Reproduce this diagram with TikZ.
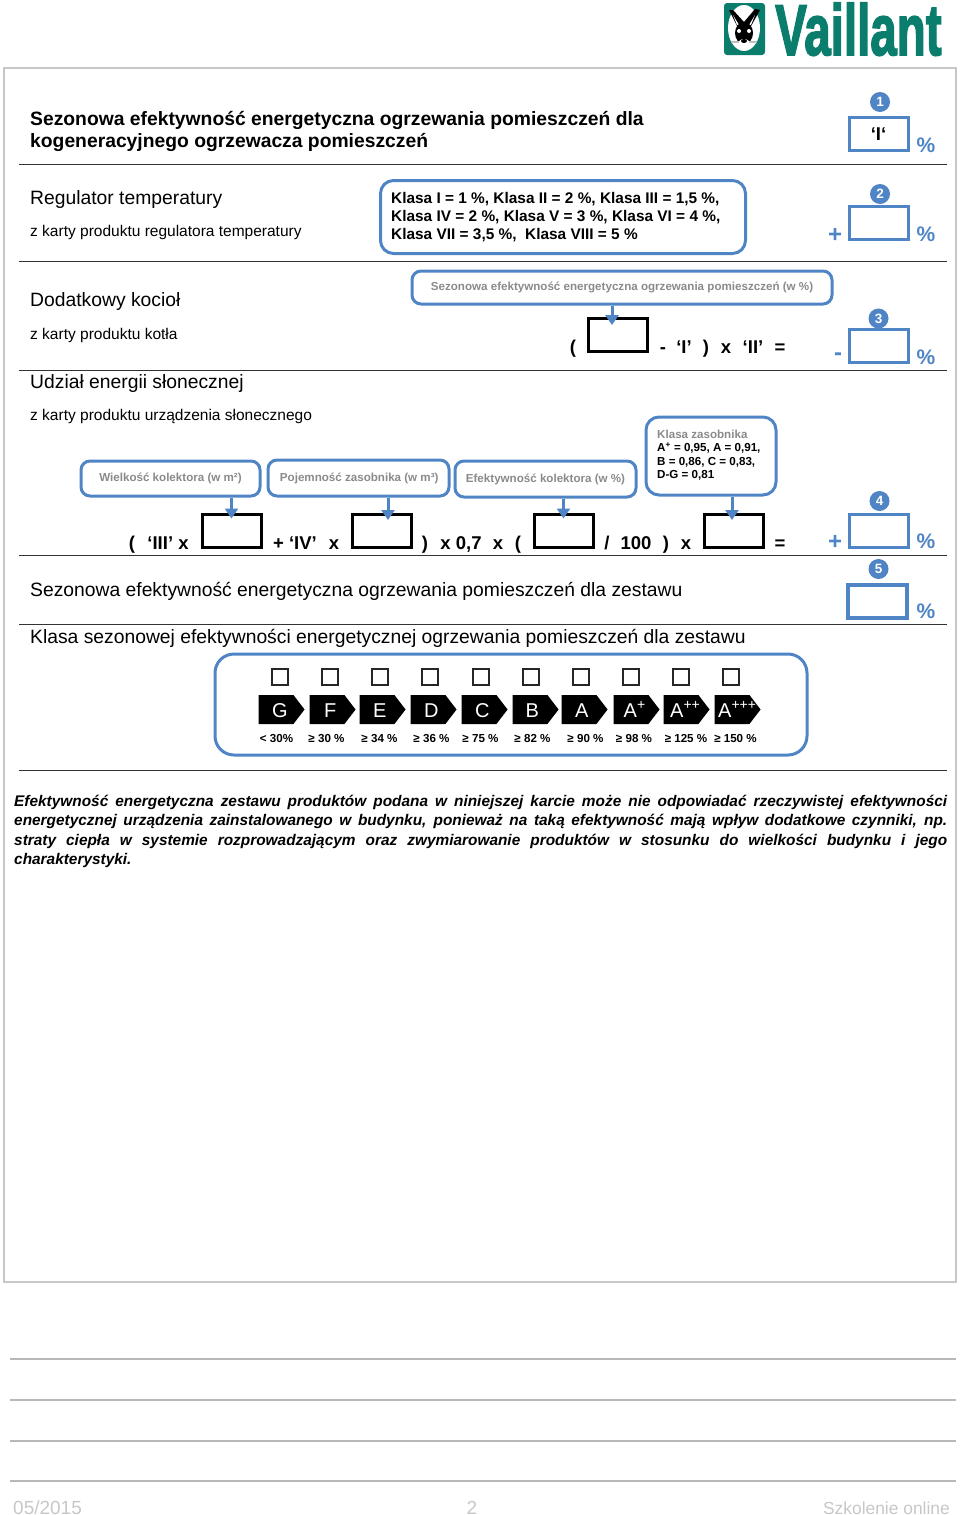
\documentclass[tikz,border=0pt]{standalone}
\usepackage{fontspec}
\setmainfont{Liberation Sans}
\newfontfamily\brandfont[FakeBold=2.5]{Liberation Sans Bold}
\usetikzlibrary{arrows.meta,shapes.symbols}
\definecolor{formblue}{HTML}{4F85C5}
\definecolor{hintgray}{HTML}{8A8A8A}
\definecolor{vaillantgreen}{HTML}{0A7D6C}
\newcommand{\fs}[1]{\fontsize{#1}{#1}\selectfont}
\tikzset{
  formtext/.style={anchor=base west,inner sep=0pt,font=\fs{19.3}},
  smalltext/.style={anchor=base west,inner sep=0pt,font=\fs{15.5}},
  optext/.style={anchor=base,inner sep=0pt,font=\fs{18.5}\bfseries},
  callout/.style={draw=formblue,line width=3pt,rounded corners=9pt,inner sep=0pt,align=center,text=hintgray,font=\fs{11.6}\bfseries},
  blackbox/.style={draw=black,line width=3pt,minimum width=59pt,minimum height=33pt,inner sep=0pt},
  bluebox/.style={draw=formblue,line width=3pt,minimum width=59pt,minimum height=33pt,inner sep=0pt},
  numdot/.style={circle,fill=formblue,text=white,minimum size=20pt,inner sep=0pt,font=\fs{13.5}\bfseries},
  percent/.style={inner sep=0pt,text=formblue,font=\fs{21}\bfseries},
  signmark/.style={inner sep=0pt,text=formblue,font=\fs{24}\bfseries},
  feed/.style={draw=formblue,line width=3pt,-{Triangle[width=13pt,length=10pt]}},
  rule/.style={draw=black!80,line width=1pt},
  greyrule/.style={draw=black!28,line width=2pt},
  classtag/.style={signal,signal to=east,signal pointer angle=105,fill=black,minimum width=46pt,minimum height=29pt,inner sep=0pt},
  gradetext/.style={anchor=base west,inner sep=0pt,text=white,font=\fs{20}},
  tick/.style={draw=black!85,line width=1.4pt,minimum size=16pt,inner sep=0pt},
  classlabel/.style={anchor=base,inner sep=0pt,font=\fs{11.6}\bfseries},
  footer/.style={anchor=base,inner sep=0pt,text=black!22,font=\fs{19}}
}
\begin{document}
\begin{tikzpicture}[x=1pt,y=-1pt]
    \useasboundingbox (0,0) rectangle (960,1515);

    % Logo
    \fill[vaillantgreen,rounded corners=3pt] (724,3) rectangle (765,55);
    \fill[white] (744,28) ellipse (16 and 23);
    \fill[black] (738,28) -- (729,10) -- (733,10) -- (744,22) -- (755,9) -- (760,10) -- (750,28) -- cycle;
    \fill[white] (733,15) -- (739,25) -- (737,25) -- cycle;
    \fill[white] (755,15) -- (749,25) -- (751,25) -- cycle;
    \fill[black] (744,33) ellipse (9 and 11);
    \fill[black!25] (731,41) rectangle (757,43);
    \fill[white] (744,44) ellipse (6 and 5);
    \fill[white] (739,31) circle (2) (749,31) circle (2);
    \fill[black] (744,41) ellipse (3 and 2);
    \node[anchor=base west,inner sep=0pt,text=vaillantgreen,font=\fs{72}\brandfont] (brand) at (775,55) {\scalebox{0.66}[1]{Vaillant}};

    % Frame
    \draw[draw=black!22,line width=1.6pt] (4,68) rectangle (956,1282);

    % Section rules
    \foreach \y in {164,261,370,555,624,770}
        \draw[rule] (19,\y) -- (947,\y);

    % Title row
    \node[formtext,align=left,font=\fs{19.3}\bfseries,anchor=north west] (title) at (30,111) {Sezonowa efektywność energetyczna ogrzewania pomieszczeń dla\\[2.7pt]kogeneracyjnego ogrzewacza pomieszczeń};

    % Left labels
    \node[formtext] (regulator) at (30,204) {Regulator temperatury};
    \node[smalltext] (regulatorsrc) at (30,236) {z karty produktu regulatora temperatury};
    \node[formtext] (boiler) at (30,306) {Dodatkowy kocioł};
    \node[smalltext] (boilersrc) at (30,339) {z karty produktu kotła};
    \node[formtext] (solar) at (30,388) {Udział energii słonecznej};
    \node[smalltext] (solarsrc) at (30,420) {z karty produktu urządzenia słonecznego};

    % Callouts
    \node[callout,minimum width=365pt,minimum height=73pt,rounded corners=13pt] (classes) at (563,217) {};
    \node[anchor=north west,inner sep=0pt,align=left,font=\fs{15.4}\bfseries] (classestext) at (391,192) {Klasa I = 1 \%, Klasa II = 2 \%, Klasa III = 1,5 \%,\\[2.6pt]Klasa IV = 2 \%, Klasa V = 3 \%, Klasa VI = 4 \%,\\[2.6pt]Klasa VII = 3,5 \%,\ \ Klasa VIII = 5 \%};
    \node[callout,minimum width=420pt,minimum height=33pt] (seasonal) at (622,287.5) {Sezonowa efektywność energetyczna ogrzewania pomieszczeń (w \%)};
    \node[callout,minimum width=179pt,minimum height=35pt] (collector) at (170.5,478.5) {Wielkość kolektora (w m²)};
    \node[callout,minimum width=181pt,minimum height=36pt] (storage) at (358.5,478) {\hspace{1.5pt}Pojemność zasobnika (w m³)};
    \node[callout,minimum width=181pt,minimum height=36pt] (efficiency) at (545.5,479) {Efektywność kolektora (w \%)};
    \node[callout,minimum width=130pt,minimum height=78pt,rounded corners=13pt] (storeclass) at (711,456) {};
    \node[anchor=north west,inner sep=0pt,align=left,font=\fs{11.6}\bfseries] (storeclasstext) at (657,430) {{\color{hintgray}Klasa zasobnika}\\[1.6pt]A\textsuperscript{+} = 0,95, A = 0,91,\\[1.6pt]B = 0,86, C = 0,83,\\[1.6pt]D-G = 0,81};

    % Entry boxes
    \node[blackbox] (seasonalbox) at (618,334.5) {};
    \node[blackbox] (collectorbox) at (231.5,530.5) {};
    \node[blackbox] (storagebox) at (381.5,530.5) {};
    \node[blackbox] (efficiencybox) at (563.5,530.5) {};
    \node[blackbox] (storeclassbox) at (733.5,530.5) {};

    % Feed arrows
    \draw[feed] (seasonal.south -| 612,0) -- (612,325);
    \draw[feed] (collector.south -| collectorbox.center) -- ([yshift=-6pt]collectorbox.north);
    \draw[feed] (storage.south -| 388,0) -- (388,520);
    \draw[feed] (efficiency.south -| efficiencybox.center) -- ([yshift=-6pt]efficiencybox.north);
    \draw[feed] (storeclass.south -| 732,0) -- (732,520);

    % First formula
    \node[optext] (openone) at (573,353) {(};
    \node[optext] (minusone) at (663,353) {-};
    \node[optext] (romani) at (684,353) {‘I’};
    \node[optext] (closeone) at (706,353) {)};
    \node[optext] (timesone) at (726,353) {x};
    \node[optext] (romanii) at (753,353) {‘II’};
    \node[optext] (equalsone) at (780,353) {=};

    % Second formula
    \node[optext] (opentwo) at (132,549) {(};
    \node[optext] (romaniii) at (168,549) {‘III’ x};
    \node[optext] (romaniv) at (295,549) {+ ‘IV’};
    \node[optext] (timesiv) at (334,549) {x};
    \node[optext] (closetwo) at (425,549) {)};
    \node[optext] (factor) at (461,549) {x 0,7};
    \node[optext] (timesthree) at (498,549) {x};
    \node[optext] (openthree) at (518,549) {(};
    \node[optext] (slash) at (607,549) {/};
    \node[optext] (hundred) at (636,549) {100};
    \node[optext] (closethree) at (666,549) {)};
    \node[optext] (timesfour) at (686,549) {x};
    \node[optext] (equalstwo) at (780,549) {=};

    % Result column
    \node[numdot] (dotone) at (880,102) {1};
    \node[numdot] (dottwo) at (880,194) {2};
    \node[numdot] (dotthree) at (878.5,318.5) {3};
    \node[numdot] (dotfour) at (879.5,501) {4};
    \node[numdot] (dotfive) at (878.5,569) {5};
    \node[bluebox,font=\fs{18.5}\bfseries] (resultone) at (878.5,134) {‘I‘};
    \node[bluebox] (resulttwo) at (878.5,223) {};
    \node[bluebox] (resultthree) at (878.5,345.5) {};
    \node[bluebox] (resultfour) at (878.5,530.5) {};
    \node[bluebox,line width=3.8pt] (resultfive) at (877.5,601.5) {};
    \foreach \y/\name in {145/one,234/two,357/three,541/four,611/five}
        \node[percent] (percent\name) at (926,\y) {\%};
    \node[signmark] (plustwo) at (835,235) {+};
    \node[signmark] (minusthree) at (838,357) {-};
    \node[signmark] (plusfour) at (835,542) {+};

    % Totals
    \node[formtext] (total) at (30,596) {Sezonowa efektywność energetyczna ogrzewania pomieszczeń dla zestawu};
    \node[formtext] (classtotal) at (30,643) {Klasa sezonowej efektywności energetycznej ogrzewania pomieszczeń dla zestawu};

    % Energy classes
    \node[draw=formblue,line width=3pt,rounded corners=19pt,minimum width=592pt,minimum height=101pt,inner sep=0pt] (scale) at (511,704.5) {};
    \foreach \x in {280,330,380,430,481,531,581,631,681,731}
        \node[tick] (tick\x) at (\x,677) {};
    \foreach \x/\name in {276/g,327/f,377/e,428/d,479/c,530/b,579/a,631/ap,681/app,732/appp}
        \node[classtag] (tag\name) at (\x,709.5) {};
    \foreach \x/\name/\grade in {272/g/G,324/f/F,373/e/E,424/d/D,475/c/C,525.5/b/B,575/a/A,623.5/ap/A\textsuperscript{+},670/app/A\textsuperscript{++},718/appp/A\textsuperscript{+++}}
        \node[gradetext] (grade\name) at (\x,717) {\grade};
    \foreach \x/\share in {276.5/< 30\%,326.5/≥ 30 \%,379.5/≥ 34 \%,431.5/≥ 36 \%,480.5/≥ 75 \%,532.5/≥ 82 \%,585.5/≥ 90 \%,634/≥ 98 \%,686/≥ 125 \%,735.5/≥ 150 \%}
        \node[classlabel] (share\x) at (\x,742) {\share};

    % Note
    \node[anchor=north west,inner sep=0pt,text width=933pt,align=justify,font=\fontsize{15.4}{19.3}\selectfont\bfseries\itshape] (note) at (14,795) {Efektywność energetyczna zestawu produktów podana w niniejszej karcie może nie odpowiadać rzeczywistej efektywności\linebreak energetycznej urządzenia zainstalowanego w budynku, ponieważ na taką efektywność mają wpływ dodatkowe czynniki, np.\linebreak straty ciepła w systemie rozprowadzającym oraz zwymiarowanie produktów w stosunku do wielkości budynku i jego\linebreak charakterystyki.};

    % Footer
    \foreach \y in {1359,1400,1440.5,1481}
        \draw[greyrule] (10,\y) -- (956,\y);
    \node[footer,anchor=base west] (date) at (13,1514) {05/2015};
    \node[footer] (page) at (472,1514) {2};
    \node[footer,anchor=base east,font=\fs{17.4}] (course) at (950,1514) {Szkolenie online};
\end{tikzpicture}
\end{document}
